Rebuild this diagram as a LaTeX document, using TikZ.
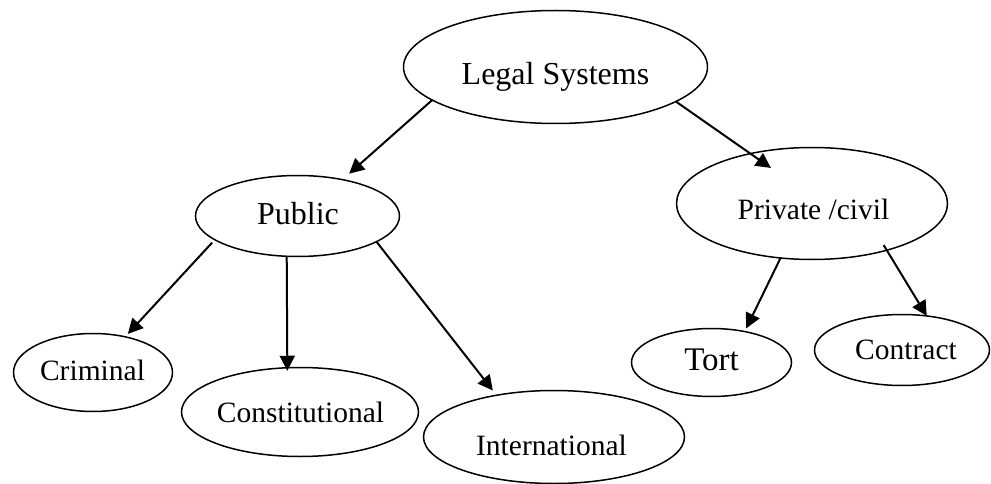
\documentclass[tikz,border=0pt]{standalone}
\usepackage{fontspec}
\setmainfont{Liberation Serif}
\usetikzlibrary{shapes.geometric,arrows.meta}
\begin{document}
\begin{tikzpicture}[x=1pt,y=-1pt,
  oval/.style n args={2}{ellipse,draw,line width=1.5pt,inner sep=0pt,outer sep=0pt,
     minimum width=#1pt,minimum height=#2pt},
  lbl/.style={anchor=base,inner sep=0pt,font=\fontsize{29.5}{36}\selectfont},
  biglbl/.style={lbl,font=\fontsize{32}{38}\selectfont},
  arr/.style={line width=2pt,-{Triangle[length=15pt,width=15pt]}}]
\useasboundingbox (0,0) rectangle (991,484);
% ellipses
\node[oval={304}{113}] (legal) at (555.5,67) {};
\node[oval={204}{81}] (public) at (297.5,216) {};
\node[oval={271}{112}] (private) at (812,203.5) {};
\node[oval={159}{78}] (criminal) at (93,372.5) {};
\node[oval={237}{89}] (constit) at (300,412) {};
\node[oval={261}{93}] (intl) at (554,437) {};
\node[oval={160}{68}] (tort) at (711.5,362.5) {};
\node[oval={175}{71}] (contract) at (902,350) {};
% labels
\node[biglbl] (legalT) at (555.5,85) {Legal Systems};
\node[biglbl] (publicT) at (298,224) {Public};
\node[lbl] (privateT) at (813.5,219) {Private /civil};
\node[lbl] (criminalT) at (92.5,380) {Criminal};
\node[lbl] (constitT) at (300.5,422) {Constitutional};
\node[lbl] (intlT) at (551.5,455) {International};
\node[biglbl,font=\fontsize{33}{39}\selectfont] (tortT) at (711.5,370) {Tort};
\node[lbl] (contractT) at (906,359) {Contract};
% connectors
\draw[arr,shorten >=9pt] (legal.195.5) -- (public.39.9);
\draw[arr,shorten >=-25pt] (legal.344) -- (private.141.9);
\draw[arr,shorten <=4pt,shorten >=4pt] (public.196) -- (criminal.48.8);
\draw[arr,shorten >=-3pt] (public.255.6) -- (constit.106.2);
\draw[arr,shorten >=6pt] (public.342.1) -- (intl.144.1);
\draw[arr,shorten >=3.5pt] (private.240.5) -- (tort.43.7);
\draw[arr,shorten <=-6pt] (private.328.5) -- (contract.54.7);
\end{tikzpicture}
\end{document}
